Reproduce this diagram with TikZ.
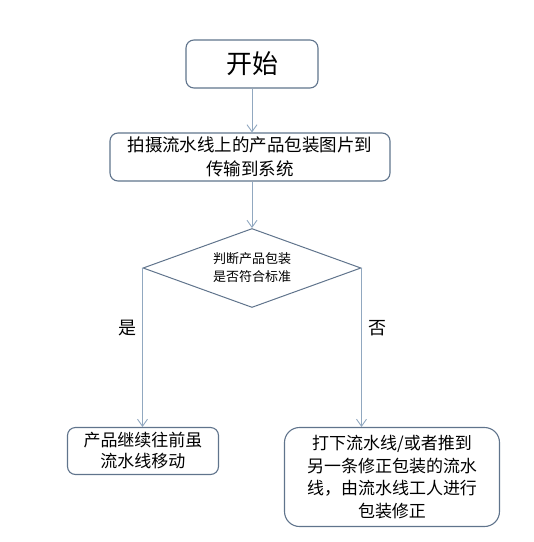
\documentclass[tikz,border=0pt]{standalone}
\usepackage{fontspec}
\setmainfont{Noto Sans CJK SC}
\usetikzlibrary{shapes.geometric,arrows.meta}
\definecolor{boxline}{RGB}{96,116,140}
\definecolor{linkline}{RGB}{145,168,192}
\tikzset{
  stepbox/.style={draw=boxline, line width=1.1pt, rounded corners=8pt, align=center, inner sep=0pt},
  decide/.style={draw=boxline, line width=1pt, diamond, aspect=2.76, inner sep=0pt, align=center,
    minimum width=218pt, minimum height=79pt},
  link/.style={draw=linkline, line width=0.9pt, -{Straight Barb[length=7pt,width=10pt]}}
}
\begin{document}
\begin{tikzpicture}[x=1pt, y=-1pt]
    \useasboundingbox (0, 0) rectangle (534, 542);
    \node [stepbox, minimum width=132pt, minimum height=48pt, font=\fontsize{26}{30}\selectfont] (start) at (252, 64) {开始};
    \node [stepbox, minimum width=280pt, minimum height=48pt, font=\fontsize{17.5}{24}\selectfont] (capture) at (250, 157) {拍摄流水线上的产品包装图片到\\传输到系统};
    \node [decide, font=\fontsize{13}{18}\selectfont] (judge) at (252, 268) {判断产品包装\\是否符合标准};
    \node [stepbox, minimum width=151pt, minimum height=47pt, font=\fontsize{17}{21}\selectfont] (keep) at (143, 451) {产品继续往前虽\\流水线移动};
    \node [stepbox, rounded corners=15pt, minimum width=215pt, minimum height=99pt, font=\fontsize{17}{22.5}\selectfont] (fix) at (392, 477) {打下流水线/或者推到\\另一条修正包装的流水\\线，由流水线工人进行\\包装修正};
    \draw [link] (start) -- (capture.north -| start);
    \draw [link] (capture.south -| start) -- (judge);
    \draw [link] (judge.west) -- (judge.west |- keep.north);
    \draw [link] (judge.east) -- (judge.east |- fix.north);
    \node [font=\fontsize{18}{20}\selectfont] (yes) at (127, 328) {是};
    \node [font=\fontsize{18}{20}\selectfont] (no) at (377, 328) {否};
\end{tikzpicture}
\end{document}
